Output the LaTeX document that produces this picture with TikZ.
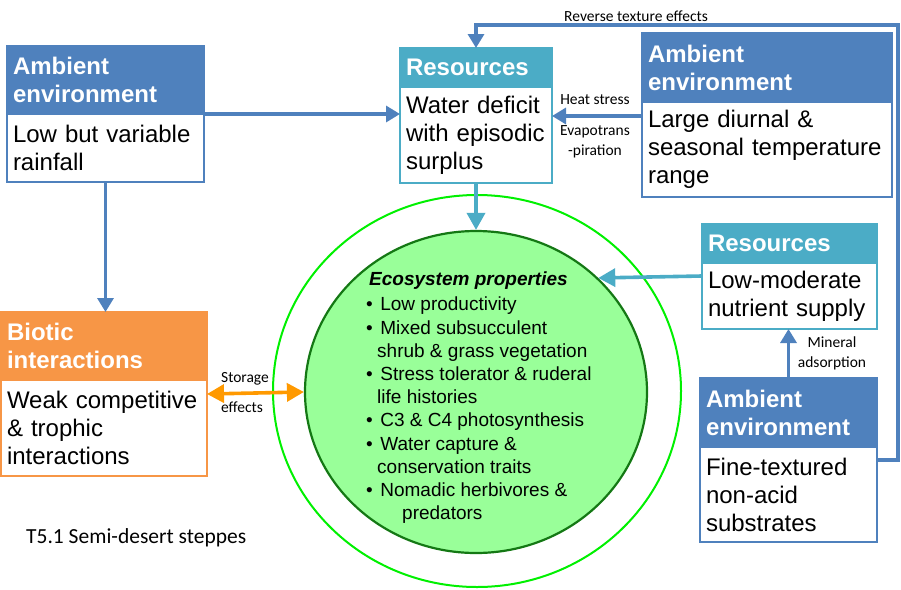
\documentclass[tikz,border=0pt]{standalone}
\usepackage{fontspec}
\setmainfont{Liberation Sans}
\newfontfamily\calibri{Carlito}
\usetikzlibrary{shapes.geometric, arrows.meta, positioning}
\definecolor{ambblue}{RGB}{79,129,189}
\definecolor{resteal}{RGB}{75,172,198}
\definecolor{bioorange}{RGB}{247,150,70}
\definecolor{storeorange}{RGB}{255,153,0}
\definecolor{ecofill}{RGB}{153,255,153}
\definecolor{ecoline}{RGB}{20,120,20}
\definecolor{ringgreen}{RGB}{0,240,0}

\begin{document}
\begin{tikzpicture}[
    x=1pt, y=-1pt,
    head/.style={rectangle, draw=#1, fill=#1, line width=1.2pt, text=white, font=\bfseries\fontsize{24}{28}\selectfont, align=left, inner xsep=6pt, inner ysep=0pt, outer sep=0pt, anchor=north west},
    body/.style={rectangle, draw=#1, fill=white, line width=1.2pt, font=\fontsize{24}{28}\selectfont, align=left, inner xsep=6pt, inner ysep=0pt, outer sep=0pt},
    note/.style={font=\calibri\fontsize{15.5}{20}\selectfont, align=center, inner sep=0pt},
    bluearrow/.style={draw=ambblue, line width=3.3pt, -{Triangle[length=14pt,width=16pt]}},
    tealarrow/.style={draw=resteal, line width=3.6pt, -{Triangle[length=17pt,width=18pt]}},
    storage/.style={draw=storeorange, line width=3.6pt, {Triangle[length=17pt,width=18pt]}-{Triangle[length=17pt,width=18pt]}}
]
\useasboundingbox (0,0) rectangle (901,589);

% ecosystem rings
\draw[ringgreen, line width=2pt] (477,391) ellipse [x radius=204pt, y radius=196pt];
\node[ellipse, draw=ecoline, fill=ecofill, line width=2.2pt, minimum width=342pt, minimum height=322pt, inner sep=0pt] (eco) at (476,392) {};
\node[anchor=north west, align=left, inner sep=0pt, font=\fontsize{19}{23.2}\selectfont] (ecolist) at (366,272) {%
\hspace*{3pt}\textbf{\textit{Ecosystem properties}}\\[1.8pt]
\textbullet\hspace{7.5pt}Low productivity\\
\textbullet\hspace{7.5pt}Mixed subsucculent\\
\hspace*{11pt}shrub \& grass vegetation\\
\textbullet\hspace{7.5pt}Stress tolerator \& ruderal\\
\hspace*{11pt}life histories\\
\textbullet\hspace{7.5pt}C3 \& C4 photosynthesis\\
\textbullet\hspace{7.5pt}Water capture \&\\
\hspace*{11pt}conservation traits\\
\textbullet\hspace{7.5pt}Nomadic herbivores \&\\
\hspace*{36pt}predators};

% boxes
\node[head=ambblue, text width=185pt, minimum height=68pt] (amb1h) at (7,46) {Ambient\\environment};
\node[body=ambblue, text width=185pt, minimum height=68pt, below=0pt of amb1h] (amb1) {Low but variable\\rainfall};

\node[head=resteal, text width=140pt, minimum height=39pt] (res1h) at (400,48) {Resources};
\node[body=resteal, text width=140pt, minimum height=96pt, below=0pt of res1h] (res1) {Water deficit\\with episodic\\surplus};

\node[head=ambblue, text width=238pt, minimum height=69pt] (amb2h) at (642,33) {Ambient\\environment};
\node[body=ambblue, text width=238pt, minimum height=95pt, below=0pt of amb2h] (amb2) {Large diurnal \&\\seasonal temperature\\range};

\node[head=resteal, text width=163pt, minimum height=39pt] (res2h) at (702,224) {Resources};
\node[body=resteal, text width=163pt, minimum height=66pt, below=0pt of res2h] (res2) {Low-moderate\\nutrient supply};

\node[head=ambblue, text width=165pt, minimum height=69pt] (amb3h) at (700,378) {Ambient\\environment};
\node[body=ambblue, text width=165pt, minimum height=95pt, below=0pt of amb3h] (amb3) {Fine-textured\\non-acid\\substrates};

\node[head=bioorange, text width=194pt, minimum height=68pt] (bioh) at (1,312) {Biotic\\interactions};
\node[body=bioorange, text width=194pt, minimum height=96pt, below=0pt of bioh] (bio) {Weak competitive\\\& trophic\\interactions};

% connectors
\coordinate (hs) at (597,116);
\coordinate (rt) at (898,25);
\draw[bluearrow] (amb1h.south east) -- (res1.west |- amb1h.south east);
\draw[bluearrow] (amb1.south) -- (amb1.south |- bioh.north);
\draw[bluearrow] (amb2.west |- hs) -- (res1.east |- hs);
\draw[bluearrow] ([yshift=-13pt]amb3.north east) -| (rt) -| (res1h.north);
\draw[bluearrow] (amb3h.north) -- (amb3h.north |- res2.south);
\draw[tealarrow] (res1.south) -- (eco.north);
\draw[tealarrow] ([yshift=-13pt]res2.north west) -- (eco.43);
\draw[storage] ([yshift=-14pt]bio.north east) -- (eco.west);

% labels
\node[note] (revlbl) at (636,16) {Reverse texture effects};
\node[note] (heatlbl) at (595,100) {Heat stress};
\node[note] (evaplbl) at (595,142) {Evapotrans\\-piration};
\node[note] (minlbl) at (832,353) {Mineral\\adsorption};
\node[note, align=left] (storlbl) at (245,393) {Storage\\[10pt]effects};
\node[font=\calibri\fontsize{21.5}{26}\selectfont, anchor=west, inner sep=0pt] (title) at (26,538) {T5.1 Semi-desert steppes};

\end{tikzpicture}
\end{document}
